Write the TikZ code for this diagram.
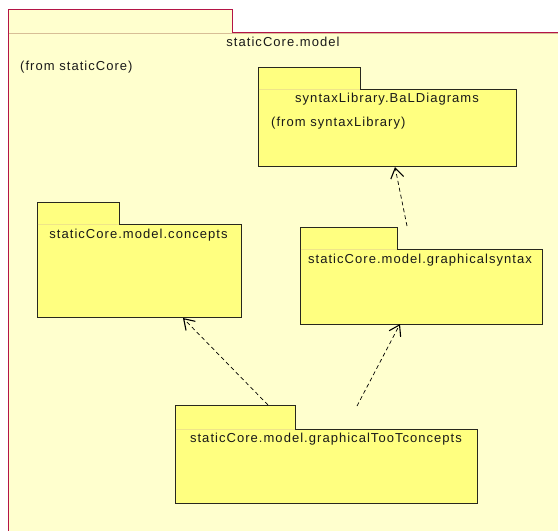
\documentclass[tikz,border=0pt]{standalone}
\usepackage{fontspec}
\setmainfont{Liberation Sans}[LetterSpace=8]
\usetikzlibrary{arrows.meta}
\definecolor{outerfill}{RGB}{255,255,206}
\definecolor{innerfill}{RGB}{255,255,128}
\definecolor{crimson}{RGB}{180,20,70}
\definecolor{tanline}{RGB}{215,190,150}
\definecolor{boxline}{RGB}{40,40,30}
\tikzset{
  pkgbody/.style={draw=boxline, fill=innerfill, line width=0.9pt, rectangle, inner sep=0pt, anchor=north west},
  pkgtab/.style={draw=boxline, fill=innerfill, line width=0.9pt},
  lbl/.style={inner sep=0pt, font=\fontsize{13}{15}\selectfont, text=black!90},
  dep/.style={dashed, dash pattern=on 4pt off 3pt, line width=0.7pt, -{Straight Barb[length=10pt,width=13pt,line width=1.1pt]}}
}
\begin{document}
\begin{tikzpicture}[x=1pt,y=-1pt]
\useasboundingbox (0,0) rectangle (558,531);
\fill[white] (0,0) rectangle (558,531);
\begin{scope}
\clip (0,0) rectangle (558,531);
% outer package
\fill[outerfill] (8,9) -- (232,9) -- (232,32) -- (600,32) -- (600,600) -- (8,600) -- cycle;
\draw[crimson, line width=1pt] (8,600) -- (8,9) -- (232,9) -- (232,32) -- (600,32);
\draw[tanline, line width=0.8pt] (8.5,33.5) -- (600,33.5);
\node[lbl, anchor=center] (outertitle) at (283,42) {staticCore.model};
\node[lbl, anchor=west] (outerfrom) at (20,67) {(from staticCore)};

% BaLDiagrams
\draw[pkgtab] (258,89) rectangle (360,67);
\node[pkgbody, minimum width=258pt, minimum height=77pt] (bal) at (258,89) {};
\draw[innerfill!60!tanline, line width=0.6pt] (258.5,89) -- (359.5,89);
\node[lbl] (baltitle) at (387,99) {syntaxLibrary.BaLDiagrams};
\node[lbl, anchor=west] (balfrom) at (271,123) {(from syntaxLibrary)};

% concepts
\draw[pkgtab] (37,224) rectangle (119,202);
\node[pkgbody, minimum width=204pt, minimum height=93pt] (conc) at (37,224) {};
\draw[innerfill!60!tanline, line width=0.6pt] (37.5,224) -- (118.5,224);
\node[lbl] (conctitle) at (138.5,235) {staticCore.model.concepts};

% graphicalsyntax
\draw[pkgtab] (300,249) rectangle (397,227);
\node[pkgbody, minimum width=242pt, minimum height=75pt] (gsyn) at (300,249) {};
\draw[innerfill!60!tanline, line width=0.6pt] (300.5,249) -- (396.5,249);
\node[lbl] (gsyntitle) at (420,260) {staticCore.model.graphicalsyntax};

% graphicalTooTconcepts
\draw[pkgtab] (175,429) rectangle (295,405);
\node[pkgbody, minimum width=302pt, minimum height=74pt] (toot) at (175,429) {};
\draw[innerfill!60!tanline, line width=0.6pt] (175.5,429) -- (294.5,429);
\node[lbl] (toottitle) at (326,439) {staticCore.model.graphicalTooTconcepts};

% dependencies
\coordinate (t1) at (268,405);
\coordinate (h1) at (183,318);
\coordinate (t2) at (357,406);
\coordinate (h2) at (400,324);
\coordinate (t3) at (407,226);
\coordinate (h3) at (395,167);
\draw[dep] (t1) -- (h1);
\draw[dep] (t2) -- (h2);
\draw[dep] (t3) -- (h3);
\end{scope}
\end{tikzpicture}
\end{document}
